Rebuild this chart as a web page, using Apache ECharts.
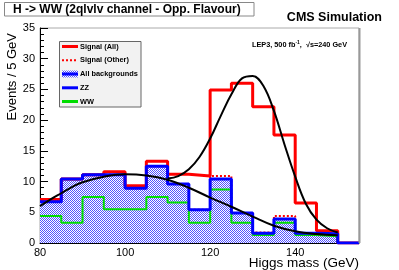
<!DOCTYPE html>
<html><head><meta charset="utf-8">
<script src="https://cdn.jsdelivr.net/npm/echarts/dist/echarts.min.js"></script>
<style>html,body{margin:0;padding:0;background:#fff}#c{width:399px;height:270px}</style>
</head><body><div id="c"></div>
<script>
// ---- data ----
const binEdges = [80,85,90,95,100,105,110,115,120,125,130,135,140,145,150,155];
const signalAll   = [7.1,10.4,11.1,11.6,9.3,13.3,11.2,10.9,24.9,26.0,22.2,17.6,6.5,2.0,0];
const signalOther = [6.7,10.4,11.1,11.1,8.9,12.5,9.6,5.4,10.9,4.9,1.7,4.4,1.6,1.5,0];
const allBkg      = [6.7,10.4,11.1,11.1,8.9,12.5,9.6,5.4,10.4,4.9,1.6,3.9,1.6,1.5,0];
const wwBkg       = [4.4,3.3,7.5,5.5,5.5,7.5,6.6,3.3,8.7,3.3,1.3,3.3,1.3,1.1,0];
const bkgFitX = [80,82.5,85,87.5,90,95,100,105,110,115,120,125,130,135,140,145,150];
const bkgFitY = [6.0,7.1,8.1,9.1,9.9,10.8,11.2,11.0,10.3,9.0,7.4,5.9,4.3,2.8,1.9,1.45,1.25];
const sigFitX = [110,112.5,115,117.5,120,122.5,125,127.5,130,132.5,135,137.5,140,142.5,145,147.5,150];
const sigFitY = [10.5,10.9,12.0,14.0,17.0,20.7,24.2,26.8,27.2,25.6,21.5,16.0,10.8,6.4,3.8,2.4,1.7];
const yTicks = [0,5,10,15,20,25,30,35];
const xTicks = [80,100,120,140];
const titleText = 'H -> WW (2qlvlv channel - Opp. Flavour)';
const cmsText = 'CMS Simulation';
const legendLabels = ['Signal (All)','Signal (Other)','All backgrounds','ZZ','WW'];
const xTitle = 'Higgs mass (GeV)';
const yTitle = 'Events / 5 GeV';

function hist(vals){
  const pts = vals.map((v,i)=>[binEdges[i], v]);
  pts.push([binEdges[vals.length], vals[vals.length-1]]);
  return pts;
}
function zip(xs, ys){ return xs.map((x,i)=>[x, ys[i]]); }

// checker pattern
const pc = document.createElement('canvas'); pc.width = 2; pc.height = 2;
const pctx = pc.getContext('2d');
pctx.fillStyle = '#ffffff'; pctx.fillRect(0,0,2,2);
pctx.fillStyle = '#5252ff'; pctx.fillRect(0,0,1,1); pctx.fillRect(1,1,1,1);
const pattern = {image: pc, repeat: 'repeat'};

const FONT = '"Liberation Sans", Arial, Helvetica, sans-serif';
const chart = echarts.init(document.getElementById('c'), null, {renderer:'canvas'});

const GL = 40, GR = 40, GT = 28, GB = 27;
const legX = 59.5, legY = 41.5, legW = 81.5, legH = 65.5;
const legRowY = [46.5, 60.3, 74, 87.8, 101.5];

const graphics = [
  {type:'rect', shape:{x:4.5,y:2.5,width:249.5,height:13.5}, style:{fill:'#fff', stroke:'#888', lineWidth:1}, z:10},
  {type:'text', x:13, y:9.5, style:{text:titleText, font:'bold 12px '+FONT, fill:'#000', verticalAlign:'middle'}, z:11},
  {type:'text', x:382, y:18, style:{text:cmsText, font:'bold 12.5px '+FONT, fill:'#000', align:'right', verticalAlign:'middle'}, z:11},
  {type:'text', x:252, y:45, style:{
    text:'{t|LEP3, 500 fb}{s|-1}{t|,  \u221As=240 GeV}',
    verticalAlign:'middle',
    rich:{t:{font:'bold 7.3px '+FONT, fill:'#000'}, s:{font:'bold 5px '+FONT, fill:'#000', verticalAlign:'top', padding:[0,0,4,0]}}
  }, z:11},
  {type:'line', shape:{x1:359.5,y1:GT,x2:359.5,y2:270-GB}, style:{stroke:'#999', lineWidth:2}, z:10},
  {type:'text', x:12, y:33, rotation:Math.PI/2, style:{text:yTitle, font:'13px '+FONT, fill:'#000', align:'right', verticalAlign:'middle'}, z:11},
  {type:'text', x:359, y:263, style:{text:xTitle, font:'13.5px '+FONT, fill:'#000', align:'right', verticalAlign:'middle'}, z:11},
  // legend
  {type:'rect', shape:{x:legX,y:legY,width:legW,height:legH}, style:{fill:'#f2f2f2', stroke:'#666', lineWidth:1}, z:10},
  {type:'line', shape:{x1:62,y1:legRowY[0],x2:78,y2:legRowY[0]}, style:{stroke:'#ff0000', lineWidth:3}, z:11},
  {type:'line', shape:{x1:62,y1:legRowY[1],x2:78,y2:legRowY[1]}, style:{stroke:'#ff0000', lineWidth:2, lineDash:[2,2]}, z:11},
  {type:'rect', shape:{x:62,y:legRowY[2]-3.5,width:16,height:7}, style:{fill:pattern, stroke:null}, z:11},
  {type:'line', shape:{x1:62,y1:legRowY[2],x2:78,y2:legRowY[2]}, style:{stroke:'#0000ff', lineWidth:3}, z:12},
  {type:'line', shape:{x1:62,y1:legRowY[3],x2:78,y2:legRowY[3]}, style:{stroke:'#0000ff', lineWidth:3}, z:11},
  {type:'line', shape:{x1:62,y1:legRowY[4],x2:78,y2:legRowY[4]}, style:{stroke:'#00dd00', lineWidth:3}, z:11}
];
legendLabels.forEach((t,i)=>{
  graphics.push({type:'text', x:80, y:legRowY[i], style:{text:t, font:'bold 7.4px '+FONT, fill:'#000', verticalAlign:'middle'}, z:12});
});

chart.setOption({
  animation:false,
  backgroundColor:'#fff',
  grid:{left:GL, right:GR, top:GT, bottom:GB, show:true, borderColor:'#aaa', borderWidth:1},
  xAxis:{
    type:'value', min:80, max:155, interval:20,
    axisLine:{show:true, onZero:false, lineStyle:{color:'#000', width:1}},
    axisTick:{show:true, inside:true, length:8, lineStyle:{color:'#000'}, customValues:xTicks},
    minorTick:{show:true, splitNumber:4, length:4, lineStyle:{color:'#000'}},
    axisLabel:{color:'#000', fontSize:11, fontFamily:FONT, margin:4, customValues:xTicks},
    splitLine:{show:false}
  },
  yAxis:{
    type:'value', min:0, max:35, interval:5,
    axisLine:{show:true, lineStyle:{color:'#000', width:1}},
    axisTick:{show:true, inside:true, length:8, lineStyle:{color:'#000'}},
    minorTick:{show:true, splitNumber:5, length:4, lineStyle:{color:'#000'}},
    axisLabel:{color:'#000', fontSize:11, fontFamily:FONT, margin:5, customValues:yTicks},
    splitLine:{show:false}
  },
  series:[
    {name:'All backgrounds fill', type:'line', step:'end', data:hist(allBkg), symbol:'none', z:1,
     lineStyle:{width:0, color:'#0000ff'}, areaStyle:{color:pattern, opacity:1}},
    {name:'Signal (Other)', type:'line', step:'end', data:hist(signalOther), symbol:'none', z:2,
     lineStyle:{width:2, color:'#ff0000', type:[2,2]}},
    {name:'Signal (All)', type:'line', step:'end', data:hist(signalAll), symbol:'none', z:2,
     lineStyle:{width:3, color:'#ff0000'}},
    {name:'WW', type:'line', step:'end', data:hist(wwBkg), symbol:'none', z:3,
     lineStyle:{width:2, color:'#00dd00'}},
    {name:'All backgrounds', type:'line', step:'end', data:hist(allBkg), symbol:'none', z:4,
     lineStyle:{width:3, color:'#0000ff'}},
    {name:'bkg fit', type:'line', smooth:0.4, data:zip(bkgFitX,bkgFitY), symbol:'none', z:5,
     lineStyle:{width:2, color:'#000'}},
    {name:'sig fit', type:'line', smooth:0.4, data:zip(sigFitX,sigFitY), symbol:'none', z:5,
     lineStyle:{width:2, color:'#000'}}
  ],
  graphic:graphics
});
</script>
</body></html>
